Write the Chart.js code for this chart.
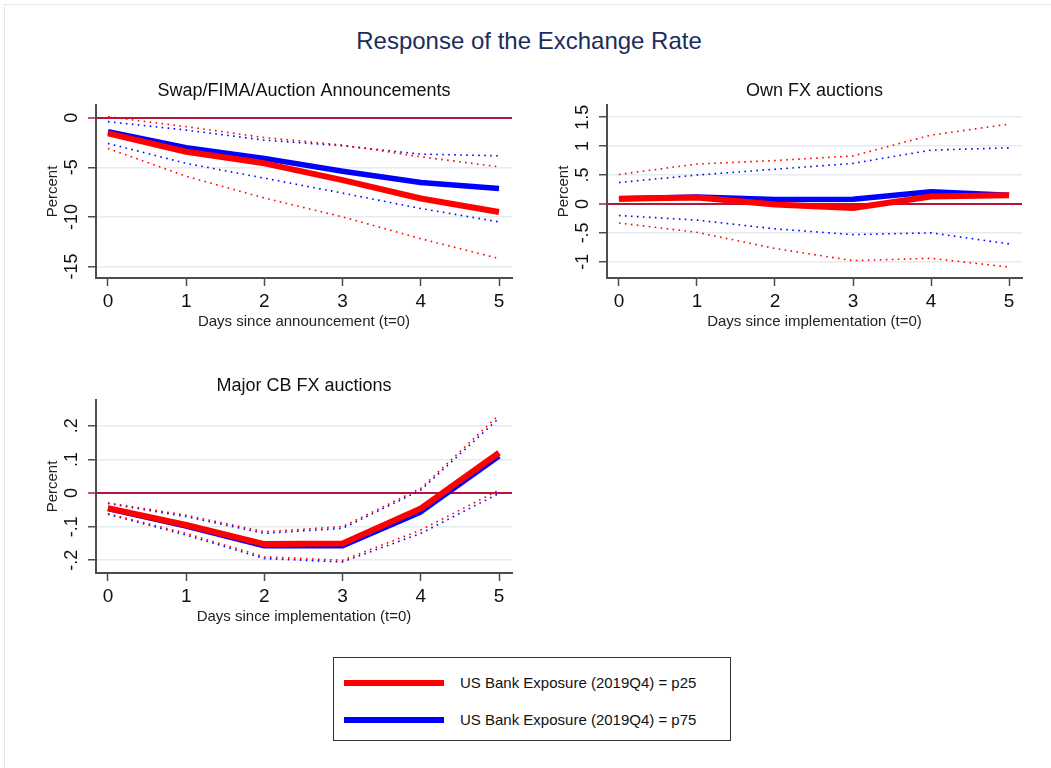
<!DOCTYPE html>
<html>
<head>
<meta charset="utf-8">
<script src="https://cdn.jsdelivr.net/npm/chart.js@4.4.1/dist/chart.umd.min.js"></script>
<style>
    html, body { margin: 0; padding: 0; background: #fff; overflow: hidden; }
    body { width: 1051px; height: 768px; position: relative; font-family: "Liberation Sans", Arial, sans-serif; }
    .frame { position: absolute; left: 4px; top: 4px; width: 1100px; height: 800px; border-left: 1px solid #dfe9ee; border-top: 1px solid #dfe9ee; }
    .main-title { position: absolute; left: 0; top: 28px; width: 1058px; text-align: center; font-size: 24px; line-height: 26px; color: #1c2d5c; }
    canvas { position: absolute; }
    .legend { position: absolute; left: 333px; top: 657px; width: 396px; height: 82px; border: 1.5px solid #333; }
    .legend .row { position: absolute; left: 0; height: 20px; font-size: 15px; line-height: 20px; color: #111; }
    .legend .swatch { position: absolute; left: 10px; top: 7px; width: 100px; height: 6px; }
    .legend .label { position: absolute; left: 126px; top: 0; white-space: nowrap; }
</style>
</head>
<body>
<div class="frame"></div>
<div class="main-title">Response of the Exchange Rate</div>
<canvas id="annChart" width="568" height="262" style="left:20px; top:70px;"></canvas>
<canvas id="ownChart" width="567" height="262" style="left:531px; top:70px;"></canvas>
<canvas id="cbChart" width="568" height="262" style="left:20px; top:365px;"></canvas>
<div class="legend">
    <div class="row" style="top:15px;"><div class="swatch" style="background:#ff0000;"></div><div class="label" id="legP25"></div></div>
    <div class="row" style="top:52px;"><div class="swatch" style="background:#0000ff; height:5.5px;"></div><div class="label" id="legP75"></div></div>
</div>
<script>
// Days since event
const days = [0, 1, 2, 3, 4, 5];
const seriesNames = ['US Bank Exposure (2019Q4) = p25', 'US Bank Exposure (2019Q4) = p75'];

// Swap/FIMA/Auction announcements
const annP25 = [-1.58, -3.43, -4.6, -6.3, -8.15, -9.5];
const annP25Hi = [0.1, -0.9, -2.0, -2.76, -3.94, -4.95];
const annP25Lo = [-3.1, -5.9, -8.1, -10.0, -12.2, -14.2];
const annP75 = [-1.41, -3.03, -4.1, -5.39, -6.53, -7.14];
const annP75Hi = [-0.4, -1.25, -2.26, -2.83, -3.67, -3.84];
const annP75Lo = [-2.6, -4.6, -6.1, -7.6, -9.16, -10.5];
const annTicks = [-15, -10, -5, 0];
const annTickLabels = ['-15', '-10', '-5', '0'];

// Own FX auctions
const ownP25 = [0.09, 0.11, -0.01, -0.07, 0.13, 0.15];
const ownP25Hi = [0.51, 0.69, 0.75, 0.83, 1.19, 1.38];
const ownP25Lo = [-0.33, -0.49, -0.77, -0.98, -0.94, -1.09];
const ownP75 = [0.09, 0.12, 0.075, 0.08, 0.21, 0.15];
const ownP75Hi = [0.37, 0.5, 0.6, 0.7, 0.93, 0.97];
const ownP75Lo = [-0.2, -0.28, -0.43, -0.53, -0.5, -0.69];
const ownTicks = [-1, -0.5, 0, 0.5, 1, 1.5];
const ownTickLabels = ['-1', '-.5', '0', '.5', '1', '1.5'];

// Major CB FX auctions
const cbP25 = [-0.045, -0.095, -0.152, -0.15, -0.046, 0.12];
const cbP25Hi = [-0.029, -0.066, -0.115, -0.1, 0.014, 0.233];
const cbP25Lo = [-0.061, -0.12, -0.19, -0.2, -0.11, 0.009];
const cbP75 = [-0.046, -0.098, -0.157, -0.157, -0.056, 0.11];
const cbP75Hi = [-0.031, -0.07, -0.12, -0.105, 0.009, 0.223];
const cbP75Lo = [-0.063, -0.125, -0.195, -0.205, -0.12, -0.001];
const cbTicks = [-0.2, -0.1, 0, 0.1, 0.2];
const cbTickLabels = ['-.2', '-.1', '0', '.1', '.2'];

const RED = '#ff0000';
const BLUE = '#0000ff';
const AXIS = '#4d4d4d';
const GRID = '#e4ecf0';
const ZERO = '#b3163c';
const FONT = '"Liberation Sans", Arial, sans-serif';

document.getElementById('legP25').textContent = seriesNames[0];
document.getElementById('legP75').textContent = seriesNames[1];

const pts = (vals) => vals.map((v, i) => ({ x: days[i], y: v }));

function solid(vals, color, width) {
    return { data: pts(vals), borderColor: color, borderWidth: width, pointRadius: 0, tension: 0, borderJoinStyle: 'round' };
}
function dotted(vals, color) {
    return { data: pts(vals), borderColor: color, borderWidth: 1.6, borderDash: [1.6, 4.4], pointRadius: 0, tension: 0 };
}

function makePanel(id, title, xTitle, yRange, yTicks, yLabels, p25, p25Hi, p25Lo, p75, p75Hi, p75Lo, tickPad) {
    const ctx = document.getElementById(id).getContext('2d');
    return new Chart(ctx, {
        type: 'line',
        data: {
            datasets: [
                solid(p25, RED, 6),
                solid(p75, BLUE, 5.5),
                dotted(p25Hi, RED),
                dotted(p25Lo, RED),
                dotted(p75Hi, BLUE),
                dotted(p75Lo, BLUE)
            ]
        },
        options: {
            responsive: false,
            animation: false,
            events: [],
            layout: { padding: 0 },
            plugins: {
                legend: { display: false },
                tooltip: { enabled: false },
                title: {
                    display: true,
                    text: title,
                    color: '#111',
                    font: { family: FONT, size: 18, weight: 'normal', lineHeight: 1.2 },
                    padding: { top: 10, bottom: 3.4 }
                }
            },
            scales: {
                x: {
                    type: 'linear',
                    min: -0.153,
                    max: 5.166,
                    afterBuildTicks: (s) => { s.ticks = days.map(v => ({ value: v })); },
                    afterFit: (s) => { s.height = 54; },
                    grid: { drawOnChartArea: false, drawTicks: true, tickLength: 8, tickColor: AXIS, tickWidth: 1.5 },
                    border: { display: true, color: AXIS, width: 2 },
                    ticks: { color: '#111', font: { family: FONT, size: 19 }, padding: 4, maxRotation: 0 },
                    title: { display: true, text: xTitle, color: '#222', font: { family: FONT, size: 15 }, padding: { top: 0, bottom: 1.5 } }
                },
                y: {
                    min: yRange[0],
                    max: yRange[1],
                    afterBuildTicks: (s) => { s.ticks = yTicks.map(v => ({ value: v })); },
                    afterFit: (s) => { s.width = 76; },
                    grid: {
                        color: (c) => (c.tick && c.tick.value === 0) ? ZERO : GRID,
                        lineWidth: (c) => (c.tick && c.tick.value === 0) ? 2 : 1.5,
                        drawTicks: true,
                        tickLength: 8,
                        tickColor: (c) => (c.tick && c.tick.value === 0) ? ZERO : AXIS,
                        tickWidth: 1.5
                    },
                    border: { display: true, color: AXIS, width: 2 },
                    ticks: {
                        color: '#111',
                        font: { family: FONT, size: 18 },
                        minRotation: 90,
                        maxRotation: 90,
                        crossAlign: 'center',
                        padding: tickPad,
                        callback: (v, i) => yLabels[i]
                    },
                    title: { display: true, text: 'Percent', color: '#222', font: { family: FONT, size: 15 }, padding: { top: 24, bottom: 0 } }
                },
                // empty right-hand box so the panel title centres over the plot region
                pad: {
                    type: 'linear',
                    position: 'right',
                    display: true,
                    afterFit: (s) => { s.width = 76; },
                    grid: { display: false, drawTicks: false },
                    border: { display: false },
                    ticks: { display: false },
                    title: { display: false }
                }
            }
        }
    });
}

makePanel('annChart', 'Swap/FIMA/Auction Announcements', 'Days since announcement (t=0)',
    [-16.16, 1.28], annTicks, annTickLabels, annP25, annP25Hi, annP25Lo, annP75, annP75Hi, annP75Lo, 3);
makePanel('ownChart', 'Own FX auctions', 'Days since implementation (t=0)',
    [-1.28, 1.71], ownTicks, ownTickLabels, ownP25, ownP25Hi, ownP25Lo, ownP75, ownP75Hi, ownP75Lo, 3.5);
makePanel('cbChart', 'Major CB FX auctions', 'Days since implementation (t=0)',
    [-0.238, 0.277], cbTicks, cbTickLabels, cbP25, cbP25Hi, cbP25Lo, cbP75, cbP75Hi, cbP75Lo, 5.5);
</script>
</body>
</html>
